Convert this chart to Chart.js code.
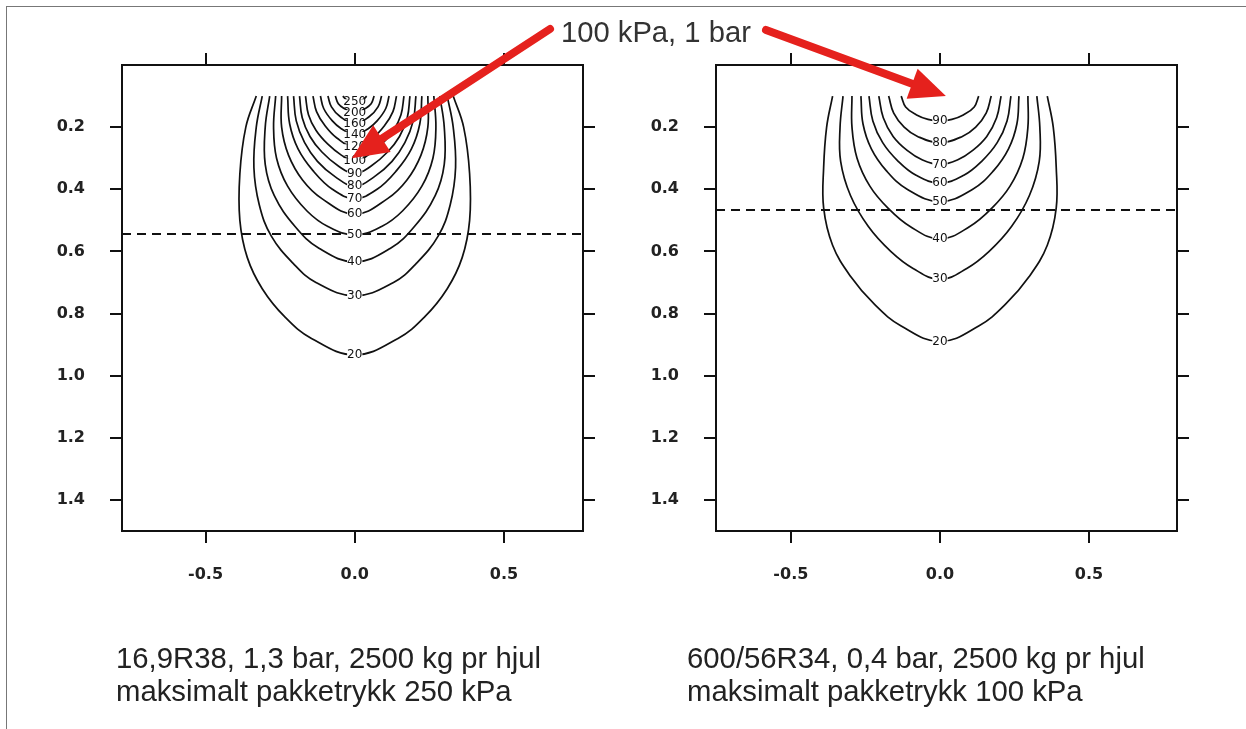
<!DOCTYPE html>
<html>
<head>
<meta charset="utf-8">
<script src="https://cdn.jsdelivr.net/npm/chart.js@4.4.1/dist/chart.umd.min.js"></script>
<style>
  body { margin: 0; background: #fff; width: 1246px; height: 729px; overflow: hidden; position: relative; font-family: "Liberation Sans", Arial, sans-serif; }
  #frame { position: absolute; left: 6px; top: 6px; right: 0; bottom: 0; border-left: 1px solid #777; border-top: 1px solid #777; }
  canvas { position: absolute; top: 0; }
  #left { left: 0; }
  #right { left: 594px; }
  #overlay { left: 0; pointer-events: none; }
  .caption { position: absolute; font-size: 29.3px; color: #222; line-height: 33px; white-space: nowrap; }
  #note { position: absolute; left: 561px; top: 16px; font-size: 29.2px; line-height: 33px; color: #333; white-space: nowrap; }
</style>
</head>
<body>
<div id="frame"></div>
<canvas id="left" width="640" height="620"></canvas>
<canvas id="right" width="640" height="620"></canvas>
<canvas id="overlay" width="1246" height="729"></canvas>
<div id="note">100 kPa, 1 bar</div>
<div class="caption" style="left:116px;top:641px">16,9R38, 1,3 bar, 2500 kg pr hjul<br>maksimalt pakketrykk 250 kPa</div>
<div class="caption" style="left:687px;top:641px">600/56R34, 0,4 bar, 2500 kg pr hjul<br>maksimalt pakketrykk 100 kPa</div>
<script>
// ticks shared by both panels
const xTicks = [-0.5, 0.0, 0.5];
const yTicks = [0.2, 0.4, 0.6, 0.8, 1.0, 1.2, 1.4];

// left panel: 16,9R38, 1,3 bar
// each contour: [depth, half width] from the top cut (0.1) down to the bottom of the curve
const leftLevels = [20, 30, 40, 50, 60, 70, 80, 90, 100, 120, 140, 160, 200, 250];
const leftContours = [
  [[0.1, 0.33], [0.2, 0.365], [0.35, 0.385], [0.5, 0.385], [0.62, 0.36], [0.72, 0.31], [0.81, 0.235], [0.88, 0.145], [0.933, 0]],
  [[0.1, 0.31], [0.2, 0.33], [0.33, 0.338], [0.45, 0.32], [0.55, 0.28], [0.64, 0.205], [0.7, 0.13], [0.743, 0]],
  [[0.1, 0.285], [0.2, 0.3], [0.32, 0.3], [0.42, 0.27], [0.52, 0.2], [0.59, 0.12], [0.634, 0]],
  [[0.1, 0.265], [0.2, 0.272], [0.3, 0.262], [0.39, 0.225], [0.47, 0.16], [0.52, 0.09], [0.547, 0]],
  [[0.1, 0.245], [0.2, 0.245], [0.29, 0.222], [0.37, 0.175], [0.43, 0.11], [0.48, 0]],
  [[0.1, 0.225], [0.19, 0.218], [0.27, 0.19], [0.34, 0.14], [0.4, 0.075], [0.43, 0]],
  [[0.1, 0.205], [0.18, 0.196], [0.25, 0.168], [0.31, 0.125], [0.36, 0.065], [0.39, 0]],
  [[0.1, 0.185], [0.17, 0.176], [0.23, 0.15], [0.28, 0.11], [0.325, 0.055], [0.35, 0]],
  [[0.1, 0.165], [0.16, 0.155], [0.21, 0.13], [0.255, 0.09], [0.29, 0.045], [0.31, 0]],
  [[0.1, 0.14], [0.15, 0.128], [0.195, 0.1], [0.235, 0.06], [0.265, 0]],
  [[0.1, 0.115], [0.14, 0.104], [0.18, 0.075], [0.205, 0.045], [0.225, 0]],
  [[0.1, 0.09], [0.135, 0.078], [0.165, 0.05], [0.19, 0]],
  [[0.1, 0.065], [0.125, 0.055], [0.14, 0.035], [0.155, 0]],
  [[0.1, 0.04], [0.11, 0.03], [0.12, 0]]
];
const leftDashY = 0.544;
const leftXRange = [-0.78, 0.765];

// right panel: 600/56R34, 0,4 bar
const rightLevels = [20, 30, 40, 50, 60, 70, 80, 90];
const rightContours = [
  [[0.1, 0.36], [0.2, 0.38], [0.33, 0.39], [0.46, 0.39], [0.58, 0.36], [0.68, 0.3], [0.77, 0.22], [0.84, 0.13], [0.89, 0]],
  [[0.1, 0.325], [0.2, 0.335], [0.31, 0.333], [0.42, 0.3], [0.52, 0.24], [0.6, 0.165], [0.655, 0.09], [0.69, 0]],
  [[0.1, 0.295], [0.2, 0.295], [0.3, 0.278], [0.39, 0.235], [0.46, 0.175], [0.52, 0.1], [0.56, 0]],
  [[0.1, 0.265], [0.19, 0.258], [0.27, 0.23], [0.34, 0.18], [0.4, 0.11], [0.44, 0]],
  [[0.1, 0.238], [0.18, 0.225], [0.25, 0.192], [0.31, 0.14], [0.355, 0.08], [0.38, 0]],
  [[0.1, 0.205], [0.17, 0.19], [0.23, 0.157], [0.275, 0.11], [0.305, 0.06], [0.32, 0]],
  [[0.1, 0.172], [0.155, 0.155], [0.2, 0.12], [0.23, 0.075], [0.25, 0]],
  [[0.1, 0.13], [0.135, 0.115], [0.16, 0.08], [0.175, 0.04], [0.18, 0]]
];
const rightDashY = 0.467;
const rightXRange = [-0.751, 0.795];

// where the "100 kPa" arrows point
const leftArrowTip = { x: -0.01, y: 0.3 };
const rightArrowTip = { x: 0.02, y: 0.1 };

const ink = '#111';
const tickFont = { family: '"DejaVu Sans"', size: 16, weight: 'bold' };

// contour labels sit on the bottom of each curve
const contourLabels = {
  id: 'contourLabels',
  afterDatasetsDraw(chart) {
    const ctx = chart.ctx;
    const x = chart.scales.x, y = chart.scales.y;
    ctx.save();
    ctx.font = '12px "DejaVu Sans"';
    ctx.textAlign = 'center';
    ctx.textBaseline = 'middle';
    chart.data.datasets.forEach(ds => {
      if (ds.bottom === undefined) return;
      const px = x.getPixelForValue(0);
      const py = y.getPixelForValue(ds.bottom);
      const w = ctx.measureText(ds.label).width;
      ctx.fillStyle = '#fff';
      ctx.fillRect(px - w / 2, py - 3, w, 6);
      ctx.fillStyle = ink;
      ctx.fillText(ds.label, px, py);
    });
    ctx.restore();
  }
};

function axis(position, min, max, ticks, size, labels, reverse) {
  const horizontal = position === 'top' || position === 'bottom';
  return {
    type: 'linear',
    position: position,
    min: min,
    max: max,
    reverse: !!reverse,
    afterBuildTicks: s => { s.ticks = ticks.map(v => ({ value: v })); },
    afterFit: s => { if (horizontal) s.height = size; else s.width = size; },
    grid: { drawOnChartArea: false, drawTicks: true, tickLength: 12, color: ink, lineWidth: 2 },
    border: { display: true, color: ink, width: 2 },
    ticks: {
      display: labels,
      padding: horizontal ? 22 : 25,
      font: tickFont,
      color: '#222',
      callback: v => v.toFixed(1)
    }
  };
}

function makePanel(id, levels, contours, dashY, xRange) {
  const datasets = contours.map((rows, i) => {
    const leftSide = rows.map(r => ({ x: -r[1], y: r[0] }));
    const rightSide = rows.slice(0, -1).reverse().map(r => ({ x: r[1], y: r[0] }));
    return {
      label: String(levels[i]),
      data: leftSide.concat(rightSide),
      bottom: rows[rows.length - 1][0],
      showLine: true,
      borderColor: ink,
      borderWidth: 1.7,
      pointRadius: 0,
      tension: 0.4
    };
  });
  datasets.push({
    label: 'dash',
    data: [{ x: xRange[0], y: dashY }, { x: xRange[1], y: dashY }],
    showLine: true,
    borderColor: ink,
    borderWidth: 2,
    borderDash: [9, 6],
    pointRadius: 0,
    tension: 0
  });
  return new Chart(document.getElementById(id), {
    type: 'scatter',
    data: { datasets: datasets },
    options: {
      responsive: false,
      animation: false,
      layout: { padding: 0 },
      plugins: { legend: { display: false }, tooltip: { enabled: false } },
      scales: {
        x: axis('bottom', xRange[0], xRange[1], xTicks, 89, true),
        x2: axis('top', xRange[0], xRange[1], xTicks, 65, false),
        y: axis('left', 0, 1.5, yTicks, 122, true, true),
        y2: axis('right', 0, 1.5, yTicks, 57, false, true)
      }
    },
    plugins: [contourLabels]
  });
}

const leftChart = makePanel('left', leftLevels, leftContours, leftDashY, leftXRange);
const rightChart = makePanel('right', rightLevels, rightContours, rightDashY, rightXRange);

// red arrows from the note to both panels
function arrow(ctx, x0, y0, x1, y1) {
  const ang = Math.atan2(y1 - y0, x1 - x0);
  const head = 36, half = 16;
  const bx = x1 - head * Math.cos(ang), by = y1 - head * Math.sin(ang);
  ctx.strokeStyle = '#e5211d';
  ctx.fillStyle = '#e5211d';
  ctx.lineWidth = 8;
  ctx.lineCap = 'round';
  ctx.beginPath();
  ctx.moveTo(x0, y0);
  ctx.lineTo(bx, by);
  ctx.stroke();
  ctx.beginPath();
  ctx.moveTo(x1, y1);
  ctx.lineTo(bx + half * Math.sin(ang), by - half * Math.cos(ang));
  ctx.lineTo(bx - half * Math.sin(ang), by + half * Math.cos(ang));
  ctx.closePath();
  ctx.fill();
}

const ov = document.getElementById('overlay').getContext('2d');
const lOff = document.getElementById('left').offsetLeft;
const rOff = document.getElementById('right').offsetLeft;
arrow(ov, 550, 29,
  lOff + leftChart.scales.x.getPixelForValue(leftArrowTip.x),
  leftChart.scales.y.getPixelForValue(leftArrowTip.y));
arrow(ov, 766, 30,
  rOff + rightChart.scales.x.getPixelForValue(rightArrowTip.x),
  rightChart.scales.y.getPixelForValue(rightArrowTip.y));
</script>
</body>
</html>
